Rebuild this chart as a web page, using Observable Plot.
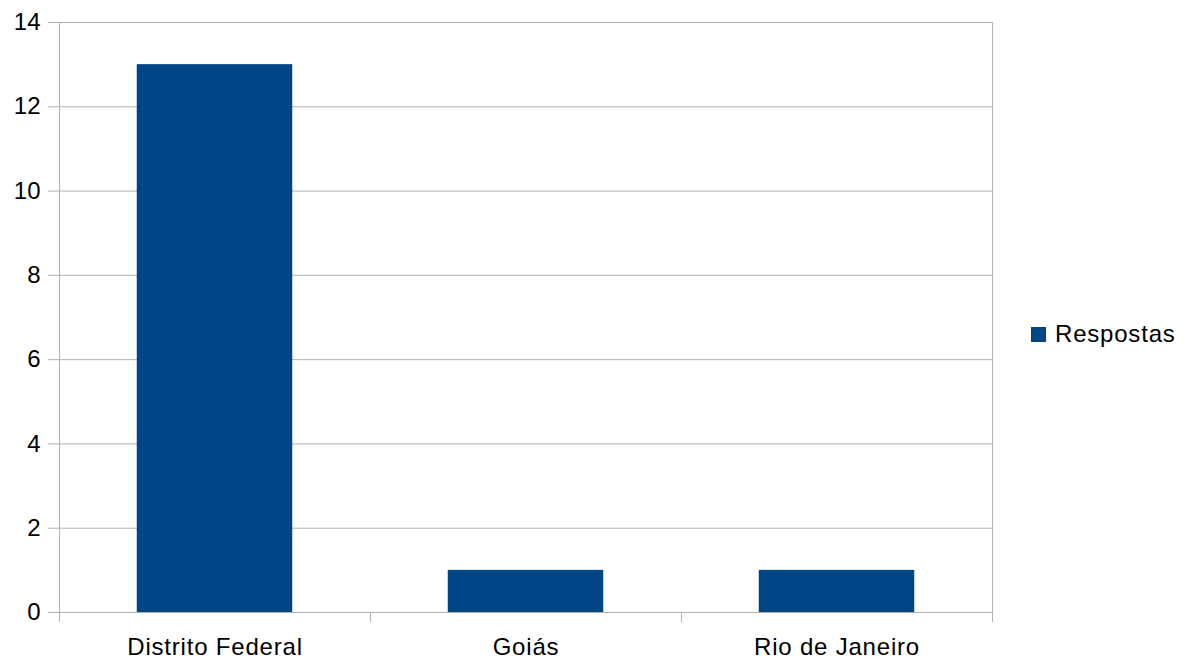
<!DOCTYPE html>
<html>
<head>
<meta charset="utf-8">
<script src="https://cdn.jsdelivr.net/npm/d3@7"></script>
<script src="https://cdn.jsdelivr.net/npm/@observablehq/plot@0.6"></script>
<style>
  html, body { margin: 0; padding: 0; background: #fff; }
  #wrap { position: relative; width: 1189px; height: 659px; font-family: "Liberation Sans", Arial, sans-serif; }
  #legend { position: absolute; left: 1031px; top: 320px; display: flex; align-items: center; font-size: 24px; color: #000; letter-spacing: 0.8px; }
  #legend .sw { width: 15px; height: 15px; background: #004586; margin-right: 9px; }
</style>
</head>
<body>
<div id="wrap"><div id="legend"><div class="sw"></div><span>Respostas</span></div></div>
<script>
const categories = ["Distrito Federal", "Goiás", "Rio de Janeiro"];
const respostas = [13, 1, 1];
const yTicks = [0, 2, 4, 6, 8, 10, 12, 14];
const seriesName = "Respostas";
const barColor = "#004586";
const gridColor = "#b3b3b3";

const data = categories.map((c, i) => ({cat: c, i, value: respostas[i]}));

const chart = Plot.plot({
  width: 1189,
  height: 659,
  marginLeft: 59,
  marginRight: 197,
  marginTop: 22,
  marginBottom: 47,
  style: {fontFamily: "'Liberation Sans', Arial, sans-serif", fontSize: "24px", color: "#000", background: "#fff"},
  x: {type: "linear", domain: [0, categories.length], axis: null, label: null},
  y: {domain: [0, 14], axis: null, label: null},
  marks: [
    Plot.gridY(yTicks, {stroke: gridColor, strokeOpacity: 1}),
    Plot.ruleX([0, categories.length], {stroke: gridColor, strokeOpacity: 1}),
    Plot.axisY(yTicks, {label: null, tickSize: 11, tickPadding: 8, stroke: gridColor, fill: "#000", fontSize: 24, tickFormat: d => String(d)}),
    Plot.axisX(d3.range(categories.length + 1), {label: null, tickSize: 10, stroke: gridColor, tickFormat: () => ""}),
    Plot.axisX(categories.map((c, i) => i + 0.5), {label: null, tickSize: 0, tickPadding: 25, fill: "#000", fontSize: 24, tickFormat: d => categories[Math.floor(d)]}),
    Plot.rectY(data, {x1: d => d.i + 0.25, x2: d => d.i + 0.75, y: "value", fill: barColor, title: d => `${seriesName}: ${d.value}`})
  ]
});
chart.querySelectorAll('[aria-label="x-axis tick label"] text').forEach(t => t.setAttribute("letter-spacing", "0.8"));
document.getElementById("wrap").prepend(chart);
</script>
</body>
</html>
